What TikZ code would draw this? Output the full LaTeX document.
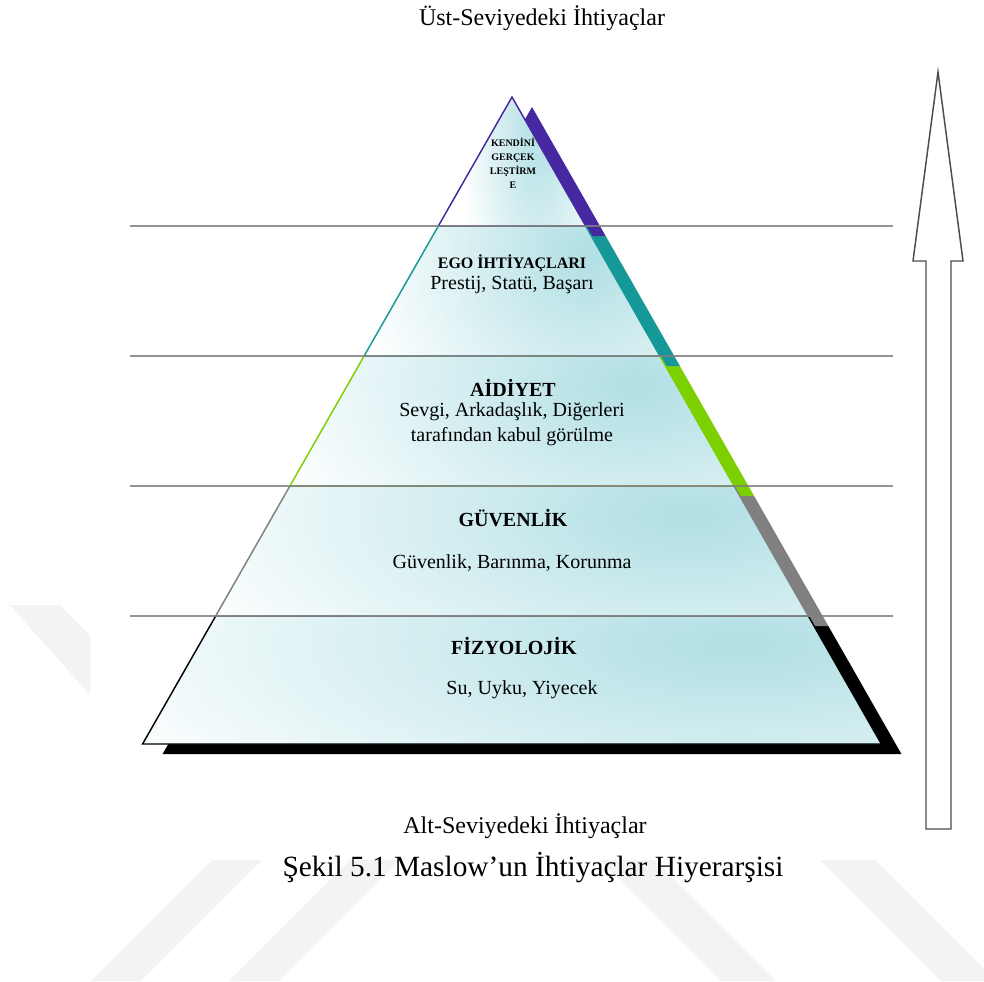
\documentclass[tikz,border=0pt]{standalone}
\usepackage{fontspec}
\setmainfont{Liberation Serif}
\usepackage{tikz}
\definecolor{lila}{RGB}{70,40,160}
\definecolor{petrol}{RGB}{22,152,152}
\definecolor{gruen}{RGB}{125,208,0}
\definecolor{grau}{RGB}{128,128,128}
\definecolor{schicht}{RGB}{176,223,228}
\definecolor{wasser}{RGB}{243,243,243}

\begin{document}
\begin{tikzpicture}[x=0.75pt,y=-0.75pt,
  rand/.style={line width=1.1pt,line join=miter},
  trenner/.style={draw=grau,line width=1.2pt,opacity=0.85},
  titel/.style={inner sep=0pt,font=\fontsize{15}{17}\selectfont\bfseries},
  inhalt/.style={inner sep=0pt,align=center,font=\fontsize{15}{18.75}\selectfont},
  ueberschrift/.style={inner sep=0pt,font=\fontsize{18}{20}\selectfont},
  pfeil/.style={draw=black!70,line width=1.1pt,fill=white,line join=miter}]
\useasboundingbox (0,0) rectangle (984,981);
%Wasserzeichen im Hintergrund
\fill[wasser] (10,605) -- (60,605) -- (90,635) -- (90,695) -- cycle;
\foreach \x in {212,350}{
  \fill[wasser] (\x,860) -- (\x+50,860) -- (\x-71,981) -- (\x-121,981) -- cycle;
}
\foreach \x in {600,820}{
  \fill[wasser] (\x,860) -- (\x+55,860) -- (\x+176,981) -- (\x+121,981) -- cycle;
}
%Steigung der Pyramidenkante: halbe Breite pro Pixel Hoehe
\pgfmathsetmacro{\steig}{370/648}
%Schatten zuerst, von unten nach oben, damit der obere den unteren verdeckt
\foreach \oben/\unten/\farbe in {616/744/black,486/616/grau,356/486/gruen,226/356/petrol,97/226/lila}{
  \pgfmathsetmacro{\bo}{\steig*(\oben-97)}
  \pgfmathsetmacro{\bu}{\steig*(\unten-97)}
  \fill[\farbe,shift={(20,10)}] (512-\bo,\oben) -- (512+\bo,\oben) -- (512+\bu,\unten) -- (512-\bu,\unten) -- cycle;
}
%die Schichten selbst, mit Verlauf nach oben rechts
\foreach \oben/\unten/\farbe in {616/744/black,486/616/grau,356/486/gruen,226/356/petrol,97/226/lila}{
  \pgfmathsetmacro{\bo}{\steig*(\oben-97)}
  \pgfmathsetmacro{\bu}{\steig*(\unten-97)}
  \pgfmathsetmacro{\bm}{(\bo+\bu)/2}
  \pgfmathsetmacro{\rx}{2.1*\bm*0.75}
  \pgfmathsetmacro{\ry}{1.8*(\unten-\oben)*0.75}
  \begin{scope}
    \clip (512-\bo,\oben) -- (512+\bo,\oben) -- (512+\bu,\unten) -- (512-\bu,\unten) -- cycle;
    \fill[white] (512-\bu,\oben) rectangle (512+\bu,\unten);
    \shade[inner color=schicht,outer color=white] (512+0.68*\bm,\oben+0.22*\unten-0.22*\oben) ellipse [x radius=\rx pt,y radius=\ry pt];
  \end{scope}
  \draw[rand,\farbe] (512-\bo,\oben) -- (512+\bo,\oben) -- (512+\bu,\unten) -- (512-\bu,\unten) -- cycle;
}
\foreach \y in {226,356,486,616}{
  \draw[trenner] (130,\y) -- (893,\y);
}
%Pfeil rechts
\draw[pfeil] (926,829) -- (926,261) -- (913,261) -- (938,72) -- (963,261) -- (951,261) -- (951,829) -- cycle;

\node[ueberschrift] (ust) at (542,18) {Üst-Seviyedeki İhtiyaçlar};
\node[inner sep=0pt,align=center,font=\fontsize{7.5}{10.5}\selectfont\bfseries] (kendini) at (513,163) {KENDİNİ\\GERÇEK\\LEŞTİRM\\E};
\node[titel,font=\fontsize{12}{14}\selectfont\bfseries] (ego) at (512,263) {EGO İHTİYAÇLARI};
\node[inhalt] (egotext) at (512,285) {Prestij, Statü, Başarı};
\node[titel] (aidiyet) at (513,388) {AİDİYET};
\node[inhalt] (aidiyettext) at (512,424) {Sevgi, Arkadaşlık, Diğerleri\\tarafından kabul görülme};
\node[titel] (guvenlik) at (513,518) {GÜVENLİK};
\node[inhalt] (guvenliktext) at (512,563) {Güvenlik, Barınma, Korunma};
\node[titel] (fizyolojik) at (514,646) {FİZYOLOJİK};
\node[inhalt] (fizyolojiktext) at (522,690) {Su, Uyku, Yiyecek};
\node[ueberschrift] (alt) at (525,826) {Alt-Seviyedeki İhtiyaçlar};
\node[inner sep=0pt,font=\fontsize{22}{24}\selectfont] (sekil) at (533,868) {Şekil 5.1 Maslow’un İhtiyaçlar Hiyerarşisi};
\end{tikzpicture}
\end{document}
